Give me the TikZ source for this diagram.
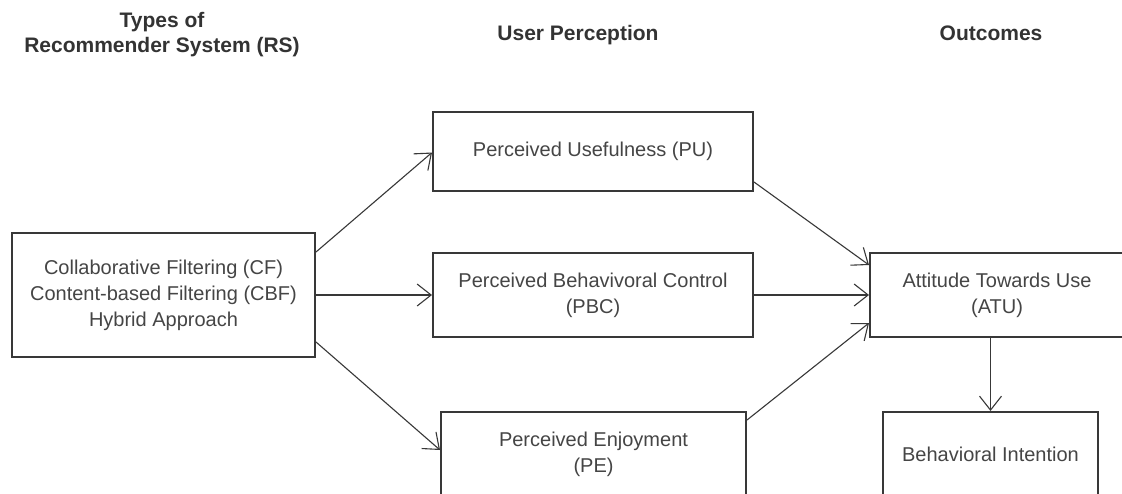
\documentclass[tikz,border=0pt]{standalone}
\usepackage{fontspec}
\setmainfont{Liberation Sans}
\usetikzlibrary{arrows.meta}
\definecolor{txt}{HTML}{454545}
\definecolor{hdr}{HTML}{333333}
\definecolor{edge}{HTML}{383838}
\tikzset{
  box/.style={draw=edge, line width=2pt, fill=none, inner sep=0pt, align=center,
    text=txt, font=\fontsize{20}{26}\selectfont},
  hdrtext/.style={inner sep=0pt, align=center, text=hdr,
    font=\fontsize{21}{25}\selectfont\bfseries},
  arr/.style={draw=edge, line width=1.1pt, -{Straight Barb[length=14pt,width=22pt,line width=1.1pt]}}
}
\begin{document}
\begin{tikzpicture}[x=1pt,y=-1pt]
\useasboundingbox (0,0) rectangle (1122,493);
\clip (0,0) rectangle (1122,493);
\fill[white] (0,0) rectangle (1122,493);
% headers
\node[hdrtext, anchor=north] (h1) at (162,12) {Types of\\Recommender System (RS)};
\node[hdrtext, anchor=base] (h2) at (578,40) {User Perception};
\node[hdrtext, anchor=base] (h3) at (991,40) {Outcomes};
% boxes
\node[box, minimum width=303pt, minimum height=124pt] (rs) at (163.5,295)
  {Collaborative Filtering (CF)\\Content-based Filtering (CBF)\\Hybrid Approach};
\node[box, minimum width=320pt, minimum height=79pt] (pu) at (593,151.5)
  {Perceived Usefulness (PU)};
\node[box, minimum width=320pt, minimum height=84pt] (pbc) at (593,295)
  {Perceived Behavivoral Control\\(PBC)};
\node[box, minimum width=305pt, minimum height=84pt] (pe) at (593.5,454)
  {Perceived Enjoyment\\(PE)};
\node[box, minimum width=254pt, minimum height=84pt] (atu) at (997,295)
  {Attitude Towards Use\\(ATU)};
\node[box, minimum width=215pt, minimum height=84pt] (bi) at (990.5,454)
  {Behavioral Intention};
% connectors
\draw[arr] ([yshift=43pt]rs.east) -- ([yshift=-1pt]pu.west);
\draw[arr] (rs.east) -- (pbc.west);
\draw[arr] ([yshift=-47pt]rs.east) -- ([yshift=4pt]pe.west);
\draw[arr] ([yshift=-30.5pt]pu.east) -- ([yshift=30pt]atu.west);
\draw[arr] (pbc.east) -- (atu.west);
\draw[arr] ([yshift=34pt]pe.east) -- ([yshift=-28pt]atu.west);
\draw[arr] (bi.north |- atu.south) -- (bi.north);
\end{tikzpicture}
\end{document}
